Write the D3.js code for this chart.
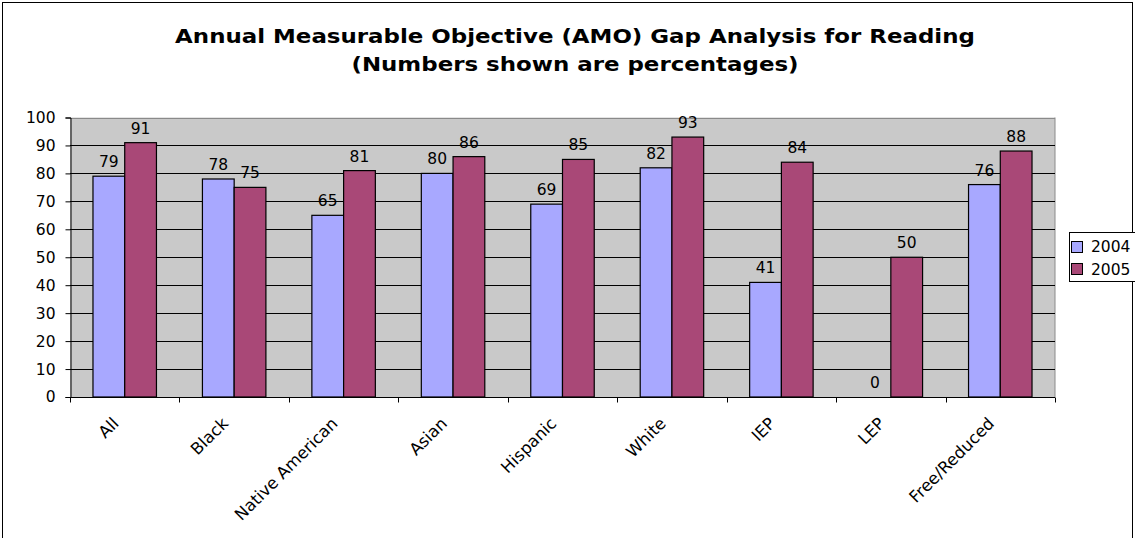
<!DOCTYPE html>
<html><head><meta charset="utf-8">
<script src="https://cdn.jsdelivr.net/npm/d3@7"></script>
<style>body{margin:0;background:#fff}svg{display:block}text{font-family:"DejaVu Sans",Verdana,sans-serif}</style>
</head><body><svg id="c" width="1135" height="538"></svg>
<script>
const categories = ["All","Black","Native American","Asian","Hispanic","White","IEP","LEP","Free/Reduced"];
const seriesNames = ["2004","2005"];
const values2004 = [79,78,65,80,69,82,41,0,76];
const values2005 = [91,75,81,86,85,93,84,50,88];
const yTicks = [0,10,20,30,40,50,60,70,80,90,100];
const colors = ["#A8A8FF","#A94877"];

const svg = d3.select("#c");
svg.append("rect").attr("x",2.5).attr("y",2.5).attr("width",1130).attr("height",560)
  .attr("fill","#fff").attr("stroke","#000").attr("stroke-width",1);

const L=70,R=1055,T=117.5,B=397;
const x = d3.scaleBand().domain(categories).range([L,R]).paddingInner(0.42).paddingOuter(0.21);
const xs = d3.scaleBand().domain(seriesNames).range([0,x.bandwidth()]);
const y = d3.scaleLinear().domain([0,100]).range([B,T]);

svg.append("rect").attr("x",L).attr("y",T).attr("width",R-L).attr("height",B-T).attr("fill","#C9C9C9");
svg.append("line").attr("x1",R).attr("x2",R).attr("y1",T).attr("y2",B).attr("stroke","#8a8a8a");
svg.append("line").attr("x1",L).attr("x2",R).attr("y1",Math.round(T)+0.5).attr("y2",Math.round(T)+0.5).attr("stroke","#8a8a8a");
svg.append("g").selectAll("line").data(yTicks.filter(d=>d>0&&d<100)).join("line")
  .attr("x1",L).attr("x2",R).attr("y1",d=>Math.round(y(d))+0.5).attr("y2",d=>Math.round(y(d))+0.5)
  .attr("stroke","#000").attr("stroke-width",1);

const data = categories.map((c,i)=>({c, v:[values2004[i],values2005[i]]}));
const g = svg.append("g");
data.forEach(d=>{
  seriesNames.forEach((s,j)=>{
    const val=d.v[j];
    const bx = x(d.c)+xs(s);
    if(val>0){
      g.append("rect").attr("x",bx).attr("y",y(val)).attr("width",xs.bandwidth()).attr("height",B-y(val))
        .attr("fill",colors[j]).attr("stroke","#000").attr("stroke-width",1.2);
    }
    g.append("text").attr("x",bx+xs.bandwidth()/2).attr("y",y(val)-9).attr("text-anchor","middle")
      .attr("font-size",15.5).attr("fill","#000").text(val);
  });
});

// y axis
const ya = svg.append("g").attr("transform",`translate(${L+0.5},0)`)
  .call(d3.axisLeft(y).tickValues(yTicks).tickSize(5).tickPadding(10));
ya.select(".domain").attr("stroke","#000");
ya.selectAll("text").attr("font-size",15.5).attr("font-family","DejaVu Sans");
ya.selectAll("line").attr("stroke","#000");

// x axis
const xa = svg.append("g").attr("transform",`translate(0,${B+0.5})`);
xa.append("line").attr("x1",L).attr("x2",R).attr("stroke","#000");
const bounds = d3.range(categories.length+1).map(i=>L+i*(R-L)/categories.length);
xa.selectAll("line.t").data(bounds).join("line").attr("class","t")
  .attr("x1",d=>Math.round(d)+0.5).attr("x2",d=>Math.round(d)+0.5).attr("y1",0).attr("y2",5).attr("stroke","#000");
xa.selectAll("text").data(categories).join("text")
  .attr("transform",d=>`translate(${x(d)+x.bandwidth()/2-5},${27}) rotate(-45)`)
  .attr("text-anchor","end").attr("font-size",16.5).attr("fill","#000").text(d=>d);

// title
const tg = svg.append("g");
const t1 = tg.append("text").attr("x",0).attr("y",0).attr("text-anchor","middle").attr("font-size",20)
  .attr("font-weight","bold").text("Annual Measurable Objective (AMO) Gap Analysis for Reading");
const t2 = tg.append("text").attr("x",0).attr("y",29).attr("text-anchor","middle").attr("font-size",20)
  .attr("font-weight","bold").text("(Numbers shown are percentages)");
const sx = 800/t1.node().getComputedTextLength();
tg.attr("transform",`translate(575,42.5) scale(${sx},1)`);

// legend
const lg = svg.append("g");
lg.append("rect").attr("x",1069.5).attr("y",232.5).attr("width",80).attr("height",49).attr("fill","#fff").attr("stroke","#000");
seriesNames.forEach((s,i)=>{
  lg.append("rect").attr("x",1071.5).attr("y",241.5+i*22).attr("width",11).attr("height",11)
    .attr("fill",colors[i]).attr("stroke","#000");
  lg.append("text").attr("x",1091).attr("y",252+i*23).attr("font-size",15.5).text(s);
});
</script></body></html>
